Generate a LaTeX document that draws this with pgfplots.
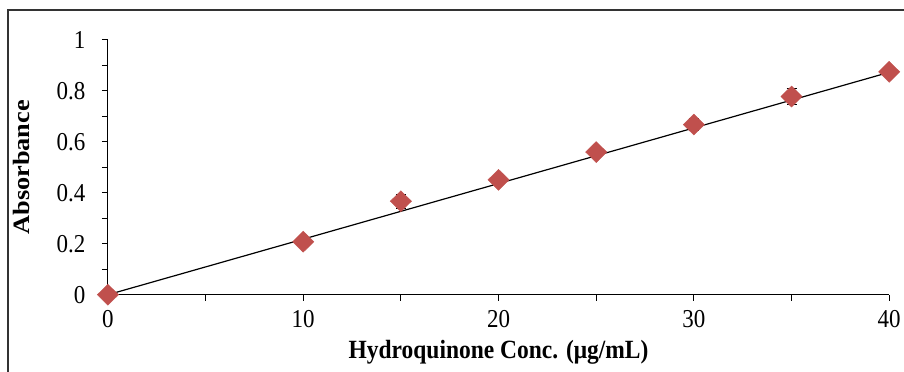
\documentclass[border=0pt]{standalone}
\usepackage{pgfplots}
\pgfplotsset{compat=1.18}
\usepackage{fontspec}
\setmainfont{Liberation Serif}
\definecolor{mk}{HTML}{C0504D}
\begin{document}
\begin{tikzpicture}[x=1pt,y=1pt]
\begin{axis}[
  at={(0,0)}, anchor=origin,
  scale only axis, width=782pt, height=255pt,
  xmin=0, xmax=40, ymin=0, ymax=1,
  axis x line*=bottom, axis y line*=left,
  axis line style={line width=1.2pt, -},
  xtick={0,10,20,30,40}, minor xtick={5,15,25,35},
  ytick={0,0.2,0.4,0.6,0.8,1}, minor ytick={0.1,0.3,0.5,0.7,0.9},
  yticklabels={0,0.2,0.4,0.6,0.8,1},
  tick align=outside, major tick length=6pt, minor tick length=6pt,
  tick style={line width=1pt, black},
  every tick label/.append style={font=\fontsize{23}{23}\selectfont, yscale=1.12},
  /pgf/number format/assume math mode=true,
  xticklabel style={yshift=-5pt},
  yticklabel style={xshift=-13pt},
  xlabel={\textbf{Hydroquinone Conc. (μg/mL)}},
  ylabel={\textbf{Absorbance}},
  label style={font=\fontsize{23.5}{23.5}\selectfont},
  xlabel style={at={(axis description cs:0.5,0)}, anchor=center, yshift=-58pt, yscale=1.12},
  ylabel style={at={(axis description cs:-0.11,0.5)}, anchor=center, xscale=1.12},
  clip=false,
]
\addplot[black, line width=1.2pt, no marks] coordinates {(0,0) (40,0.873)};
\addplot[black, only marks, mark=diamond*, mark size=10.5pt, mark options={fill=mk, draw=mk, xscale=1.35},
  error bars/.cd, y dir=both, y explicit,
  error bar style={black, line width=1.2pt}, error mark options={black, line width=1.2pt, mark size=5pt, rotate=90}]
  coordinates {
  (0,0) +- (0,0)
  (10,0.208) +- (0,0.006)
  (15,0.367) +- (0,0.027)
  (20,0.451) +- (0,0.008)
  (25,0.560) +- (0,0.008)
  (30,0.668) +- (0,0.022)
  (35,0.778) +- (0,0.03)
  (40,0.875) +- (0,0.004)
  };
\end{axis}
\useasboundingbox (-108,-77) rectangle (796,295);
\draw[line width=1.5pt, black!80] (-100,-100) -- (-100,285) -- (820,285);
\end{tikzpicture}
\end{document}
